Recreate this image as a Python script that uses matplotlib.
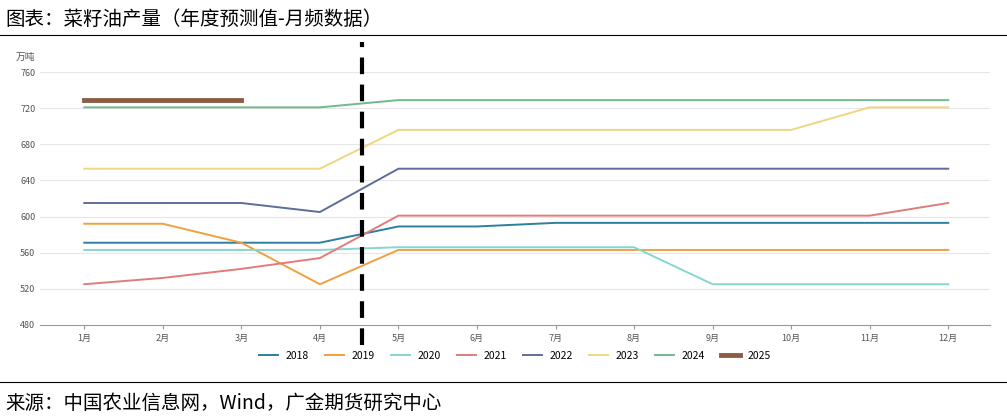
import matplotlib
matplotlib.use("Agg")
import matplotlib.pyplot as plt

plt.rcParams['font.family'] = ['Noto Sans CJK SC', 'DejaVu Sans']

months = ['1月', '2月', '3月', '4月', '5月', '6月', '7月', '8月', '9月', '10月', '11月', '12月']
s2018 = [571, 571, 571, 571, 589, 589, 593, 593, 593, 593, 593, 593]
s2019 = [592, 592, 571, 525, 563, 563, 563, 563, 563, 563, 563, 563]
s2020 = [563, 563, 563, 563, 566, 566, 566, 566, 525, 525, 525, 525]
s2021 = [525, 532, 542, 554, 601, 601, 601, 601, 601, 601, 601, 615]
s2022 = [615, 615, 615, 605, 653, 653, 653, 653, 653, 653, 653, 653]
s2023 = [653, 653, 653, 653, 696, 696, 696, 696, 696, 696, 721, 721]
s2024 = [721, 721, 721, 721, 729, 729, 729, 729, 729, 729, 729, 729]
s2025 = [729, 729, 729]
yticks = [480, 520, 560, 600, 640, 680, 720, 760]

series = [('2018', s2018, '#2e7ea0'), ('2019', s2019, '#f0a040'),
          ('2020', s2020, '#86d6d2'), ('2021', s2021, '#e07c7c'),
          ('2022', s2022, '#5e6d99'), ('2023', s2023, '#f0d67e'),
          ('2024', s2024, '#72b98c'), ('2025', s2025, '#8b5e44')]

fig = plt.figure(figsize=(10.07, 4.17), dpi=100)
ax = fig.add_axes([0.04, 0.221, 0.943, 0.606])
x = list(range(1, 13))
for name, vals, col in series:
    lw = 3.5 if name == '2025' else 1.4
    ax.plot(x[:len(vals)], vals, color=col, lw=lw, label=name)

# forecast boundary
ax.axvline(4.53, color='black', lw=3, ls=(0, (4, 2.5)), ymin=-0.08, ymax=1.12, clip_on=False)

ax.set_xlim(0.44, 12.53)
ax.set_ylim(480, 760)
ax.set_yticks(yticks)
ax.set_xticks(x)
ax.set_xticklabels(months)
ax.tick_params(labelsize=6.5, colors='#555555', length=0)
ax.tick_params(axis='x', length=3, color='#999999')
ax.grid(axis='y', color='#e6e6e6', lw=0.8)
for sp in ['top', 'right', 'left']:
    ax.spines[sp].set_visible(False)
ax.spines['bottom'].set_color('#999999')
ax.text(-0.005, 1.05, '万吨', transform=ax.transAxes, fontsize=7, color='#555555', ha='right')

ax.legend(loc='upper center', bbox_to_anchor=(0.5, -0.065), ncol=8, frameon=False,
          fontsize=7.5, handlelength=1.8, columnspacing=1.5)

fig.text(0.005, 0.94, '图表：菜籽油产量（年度预测值-月频数据）', fontsize=14)
fig.add_artist(plt.Line2D([0.0, 1.0], [0.915, 0.915], color='black', lw=0.8))
fig.add_artist(plt.Line2D([0.0, 1.0], [0.083, 0.083], color='black', lw=0.8))
fig.text(0.005, 0.02, '来源：中国农业信息网，Wind，广金期货研究中心', fontsize=14)

fig.savefig('out.png', dpi=100)
